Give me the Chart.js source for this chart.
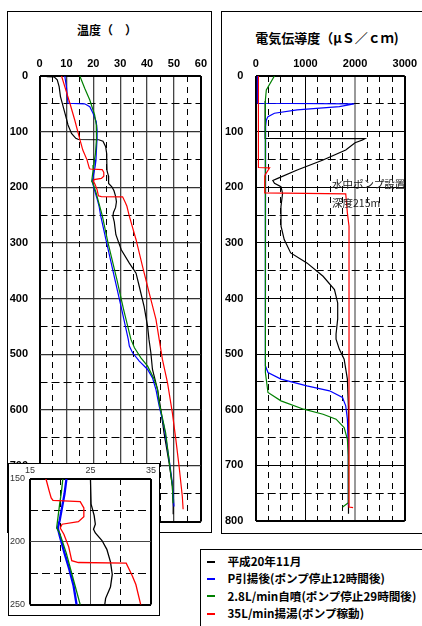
<!DOCTYPE html>
<html><head><meta charset="utf-8">
<script src="https://cdn.jsdelivr.net/npm/chart.js@4"></script>
<style>
html,body{margin:0;padding:0;background:#fff;width:422px;height:626px;overflow:hidden;position:relative;}
.box{position:absolute;border:1.5px solid #000;background:#fff;box-sizing:border-box;}
canvas{position:absolute;left:0;top:0;}
.ttl{position:absolute;font-family:"Noto Sans CJK JP",sans-serif;font-weight:bold;white-space:nowrap;color:#000;text-align:center;}
.note{position:absolute;font-family:"Noto Sans CJK JP",sans-serif;font-size:10.5px;line-height:12px;color:#222;white-space:nowrap;}
.leg{position:absolute;font-family:"Noto Sans CJK JP",sans-serif;font-weight:bold;font-size:11.6px;line-height:17.5px;white-space:nowrap;color:#000;}
.mk{position:absolute;width:8px;height:2px;}
</style></head>
<body>
<div class="box" style="left:7px;top:11px;width:205px;height:522px;"></div>
<div class="ttl" style="left:0;top:23px;width:214px;font-size:12px;line-height:14px;">温度（　）</div>
<div style="position:absolute;left:0;top:0;width:212px;height:540px;"><canvas id="cT" width="212" height="540"></canvas></div>

<div class="box" style="left:8px;top:463px;width:152px;height:153px;"><div style="position:absolute;left:-1.5px;top:-1.5px;width:151px;height:152px;"><canvas id="cI" width="151" height="152"></canvas></div></div>

<div class="box" style="left:221px;top:11px;width:210px;height:523px;"></div>
<div class="ttl" style="left:221px;top:30px;width:212px;font-size:13px;line-height:15px;">電気伝導度（μＳ／ｃｍ)</div>
<div style="position:absolute;left:215px;top:0;width:207px;height:540px;"><canvas id="cE" width="207" height="540"></canvas></div>
<div class="note" style="left:332px;top:178px;">水中ポンプ設置</div>
<div class="note" style="left:332px;top:197px;">深度215m</div>

<div class="box" id="legend" style="left:200px;top:549px;width:240px;height:90px;"></div>

<script>
// ---- series names / colours ----
const seriesNames = ['平成20年11月','P引揚後(ポンプ停止12時間後)','2.8L/min自噴(ポンプ停止29時間後)','35L/min揚湯(ポンプ稼動)'];
const seriesColors = ['#000000','#0000ff','#008000','#ff0000'];

// ---- tick labels ----
const tempTicks = [0,10,20,30,40,50,60];
const ecTicks = [0,1000,2000,3000];
const depthTicks = [0,100,200,300,400,500,600,700,800];
const insetTempTicks = [15,25,35];
const insetDepthTicks = [150,200,250];

// ---- temperature (depth m, °C) ----
const tBlackDepth = [1,1.5,7,19,37,55,73,88,103,112,114,114.5,117,127,140,151,170,179,186,190,193,199,206,216,226,236,245,252,262,285,312,336,354,378,414,450,473,497,527,563,599,641,695,737,773,787];
const tBlack      = [2.7,5.4,6.6,7.3,7.8,8.8,9.8,10.6,11.9,13.5,14.5,22.0,23.6,24.6,25.0,25.0,25.1,25.6,25.8,25.5,25.8,26.9,27.7,28.3,28.6,28.3,27.5,27.3,27.8,28.4,30.4,33.4,35.9,37.1,38.9,40.2,40.7,41.4,42.0,43.9,45.1,46.3,48.2,49.4,49.7,49.7];
const tBlueDepth = [0,19,49,50,55,67,82,97,112,139,151,162,170,183,189,195,209,222,235,250,294,354,420,473,485,497,512,527,542,563,593,629,689,731,773];
const tBlue      = [9.4,10.0,10.6,16.8,18.7,19.9,21.1,21.4,21.4,21.1,21.0,20.7,20.4,19.9,19.6,19.9,20.7,21.5,22.2,22.7,24.7,27.5,30.6,33.0,33.4,34.6,37.1,40.2,42.0,43.3,44.5,46.3,48.2,49.4,50.0];
const tGreenDepth = [0,22,43,70,88,112,140,151,160,170,189,193,209,227,250,300,366,420,473,488,506,521,545,563,587,641,737,767];
const tGreen      = [15.0,16.8,18.7,20.5,21.1,21.2,20.8,20.4,20.2,19.9,19.4,19.9,21.0,22.0,23.3,25.5,28.8,31.3,34.0,35.3,37.7,40.2,42.7,43.9,44.5,46.9,49.4,49.7];
const tRedDepth = [0,19,49,79,112,133,151,160,165,167,168,173,180,184,186,189,194,204,215,216.5,217,227,234,250,294,342,390,437,473,509,551,605,653,701,755,778];
const tRed      = [8.2,9.4,11.3,13.1,14.9,16.1,17.7,18.2,18.5,18.8,23.3,23.9,23.9,23.0,20.3,20.0,20.6,21.4,21.9,23.0,30.9,31.9,32.5,33.3,35.9,38.3,40.8,43.3,44.5,45.7,47.6,49.4,50.7,51.9,53.1,53.4];

// ---- electric conductivity (depth m, µS/cm) ----
const eBlackDepth = [45,112,112.5,115,120,133,151,169,184,188,193,199,211,235,270,294,318,336,360,384,408,437,464,473,491,509,545,593,780,787];
const eBlack      = [190,190,2200,2150,2000,1812,1356,835,443,345,378,508,541,508,510,574,704,1030,1356,1585,1650,1650,1617,1617,1682,1780,1845,1865,1865,1870];
const eBlueDepth = [0,49,50,55,61,67,73,79,90,521,533,545,557,566,578,593,617,665,772];
const eBlue      = [35,35,1980,1683,834,377,247,214,200,195,247,508,1030,1486,1747,1812,1845,1865,1865];
const eGreenDepth = [0,25,43,533,569,584,599,608,617,632,653,683,767,775];
const eGreen      = [377,214,195,195,247,508,965,1356,1617,1780,1845,1865,1865,1750];
const eRedDepth = [0,164.5,165,177,180,210,212,246,270,775,776];
const eRed      = [55,55,280,195,182,182,1812,1845,1878,1878,1960];

const tempDepths = [tBlackDepth,tBlueDepth,tGreenDepth,tRedDepth];
const tempVals = [tBlack,tBlue,tGreen,tRed];
const ecDepths = [eBlackDepth,eBlueDepth,eGreenDepth,eRedDepth];
const ecVals = [eBlack,eBlue,eGreen,eRed];

function makeSets(depths, vals, widths){
  return vals.map((v,i)=>({
    label: seriesNames[i],
    data: v.map((x,j)=>({x:x,y:depths[i][j]})),
    borderColor: seriesColors[i],
    backgroundColor: seriesColors[i],
    borderWidth: widths[i],
    showLine:true, pointRadius:0, tension:0, fill:false,
    order: [4,3,2,1][i],
    clip: 0
  }));
}

const tickFont = {family:'"Liberation Sans", Arial, sans-serif', weight:'bold', size:11};
const smallFont = {family:'"Liberation Sans", Arial, sans-serif', size:9};

function majorScale(pos, min, max, ticks, opts){
  const edge = v => v===min || v===max;
  return {
    type:'linear', position:pos, min:min, max:max, reverse: !!opts.reverse,
    afterBuildTicks: s => { s.ticks = ticks.map(v=>({value:v})); },
    ticks:{font:opts.font, color:opts.labelColor||'#000', padding:opts.pad, maxRotation:0, autoSkip:false,
      callback: v => String(v)},
    grid:{drawTicks:false,
      color: c => (c.tick && edge(c.tick.value)) ? '#000' : (opts.colorFn ? opts.colorFn(c.tick?c.tick.value:null) : opts.color),
      lineWidth: c => (c.tick && edge(c.tick.value)) ? opts.edgeW : (opts.widthFn ? opts.widthFn(c.tick?c.tick.value:null) : opts.w)},
    border:{display:false},
    afterFit: s => { if(pos==='top'||pos==='bottom') s.height=opts.size; else s.width=opts.size; }
  };
}
function minorScale(pos, min, max, step, majors, dash, reverse){
  return {
    type:'linear', position:pos, min:min, max:max, reverse: !!reverse,
    ticks:{display:false, stepSize:step},
    grid:{drawTicks:false, lineWidth:1,
      color: c => (c.tick && !majors.includes(c.tick.value)) ? '#000' : 'rgba(0,0,0,0)'},
    border:{display:false, dash:dash},
    afterFit: s => { if(pos==='top'||pos==='bottom') s.height=0; else s.width=0; }
  };
}

const common = {responsive:false, animation:false, devicePixelRatio:1,
  plugins:{legend:{display:false}, tooltip:{enabled:false}, title:{display:false}}};

// ---- temperature panel ----
new Chart(document.getElementById('cT'), {
  type:'scatter',
  data:{datasets: makeSets(tempDepths, tempVals, [1.2,1.2,1.2,1.2])},
  options:Object.assign({}, common, {
    layout:{padding:{left:0, top:0, right:10, bottom:18.5}},
    scales:{
      x: majorScale('top',0,60,tempTicks,{font:tickFont,pad:5,color:'#444',w:1.3,edgeW:2,size:76}),
      y: majorScale('left',0,800,depthTicks,{font:tickFont,pad:11.5,color:'#333',w:1.3,edgeW:2,size:39.5,reverse:true}),
      xm: minorScale('bottom',0,60,5,tempTicks,[6,5]),
      ym: minorScale('right',0,800,50,depthTicks,[8,4],true)
    }
  })
});

// ---- conductivity panel ----
new Chart(document.getElementById('cE'), {
  type:'scatter',
  data:{datasets: makeSets(ecDepths, ecVals, [1.2,1.2,1.2,1.2])},
  options:Object.assign({}, common, {
    layout:{padding:{left:0, top:0, right:13, bottom:18.5}},
    scales:{
      x: majorScale('top',0,3000,ecTicks,{font:tickFont,pad:5,colorFn:v=>v===2000?'#999':'#000',widthFn:v=>v===2000?2:1,edgeW:2,size:76}),
      y: majorScale('left',0,800,depthTicks,{font:tickFont,pad:12.4,color:'#000',w:1,edgeW:2,size:40.7,reverse:true}),
      xm: minorScale('bottom',0,3000,250,ecTicks,[6,5]),
      ym: minorScale('right',0,800,50,depthTicks,[8,4],true)
    }
  })
});

// ---- inset (zoom of temperature, 150-250 m) ----
new Chart(document.getElementById('cI'), {
  type:'scatter',
  data:{datasets: makeSets(tempDepths, tempVals, [1.3,2.3,1.3,1.3])},
  options:Object.assign({}, common, {
    layout:{padding:{left:0, top:0, right:5.7, bottom:7}},
    scales:{
      x: majorScale('top',15,35,insetTempTicks,{font:smallFont,labelColor:'#333',pad:3,color:'#444',w:1,edgeW:2,size:16}),
      y: majorScale('left',150,250,insetDepthTicks,{font:smallFont,labelColor:'#333',pad:5,color:'#444',w:1,edgeW:2,size:22,reverse:true}),
      xm: minorScale('bottom',15,35,5,insetTempTicks,[6,5]),
      ym: minorScale('right',150,250,25,insetDepthTicks,[8,4],true)
    }
  })
});

// ---- legend (HTML) ----
const lg = document.getElementById('legend');
seriesNames.forEach((n,i)=>{
  const cy = 562 + i*17.4 - 549 - 1.5;
  const m = document.createElement('div'); m.className='mk';
  m.style.left='5.5px'; m.style.top=(cy-1)+'px'; m.style.background=seriesColors[i];
  lg.appendChild(m);
  const t = document.createElement('div'); t.className='leg';
  t.style.left='26.5px'; t.style.top=(cy-8.75)+'px'; t.textContent=n;
  lg.appendChild(t);
});
</script>
</body></html>
